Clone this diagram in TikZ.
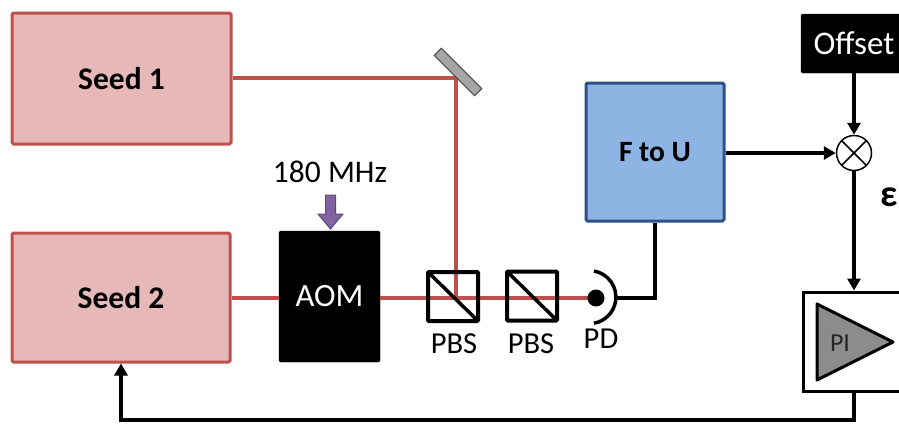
\documentclass[tikz,border=0pt]{standalone}
\usepackage{fontspec}
\setmainfont{Carlito}
\usetikzlibrary{arrows.meta}
\definecolor{seedfill}{HTML}{E6B9B8}
\definecolor{seedline}{HTML}{C0504D}
\definecolor{beamcol}{HTML}{C0504D}
\definecolor{blufill}{HTML}{8EB4E3}
\definecolor{bluline}{HTML}{2C5287}
\definecolor{purfill}{HTML}{8064A2}
\definecolor{purline}{HTML}{5F497A}
\definecolor{mirfill}{HTML}{A6A6A6}
\definecolor{trifill}{HTML}{8C8C8C}
\tikzset{
  seedbox/.style={draw=seedline, fill=seedfill, line width=3pt, rounded corners=1.5pt,
    font=\fontsize{31.5}{36}\selectfont\bfseries, inner sep=0pt},
  blackbox/.style={draw=black, fill=black, text=white, rounded corners=1.5pt,
    font=\fontsize{32.5}{38}\selectfont, inner sep=0pt},
  bluebox/.style={draw=bluline, fill=blufill, line width=3pt, rounded corners=1.5pt,
    font=\fontsize{29.5}{34}\selectfont\bfseries, inner sep=0pt},
  pbsbox/.style={draw=black, line width=4pt, minimum width=50pt, minimum height=49pt,
    inner sep=0pt, rounded corners=1pt,
    path picture={\draw[line width=3.5pt] (path picture bounding box.north west) -- (path picture bounding box.south east);}},
  beam/.style={draw=beamcol, line width=4pt},
  wire/.style={draw=black, line width=4pt},
  arr/.style={wire, -{Triangle[length=12pt,width=13pt]}},
  lbl/.style={font=\fontsize{30.5}{36}\selectfont, inner sep=0pt},
}
\begin{document}
\begin{tikzpicture}[x=1pt,y=-1pt]
\useasboundingbox (0,0) rectangle (899,424);
\clip (0,0) rectangle (899,424);

% beams (behind components)
\coordinate (mir) at (456,78);
\coordinate (beamjoin) at (456,298);
\node[seedbox, minimum width=219pt, minimum height=131pt] (seed1) at (121.5,78.5) {Seed 1};
\node[seedbox, minimum width=218pt, minimum height=129pt] (seed2) at (121,297.5) {Seed 2};
\node[blackbox, minimum width=101pt, minimum height=131pt] (aom) at (329.5,296.5) {AOM};
\coordinate (pdc) at (596,298);

\draw[beam] (seed1.east |- mir) -- (mir) -- (beamjoin);
\draw[beam] (seed2.east |- pdc) -- (aom.west |- pdc);
\draw[beam] (aom.east |- pdc) -- (pdc);

% mirror
\node[draw=black!70, fill=mirfill, line width=1pt, minimum width=57pt, minimum height=10pt,
  inner sep=0pt, rotate=-45] (mirror) at (458,72) {};

% 180 MHz and RF arrow
\node[lbl, font=\fontsize{31.5}{36}\selectfont] (rf) at (330,172) {180 MHz};
\draw[draw=purline, fill=purfill, line width=1pt]
  (325.5,195) -- (335.5,195) -- (335.5,214) -- (343,214) -- (330.5,229) -- (318,214) -- (325.5,214) -- cycle;

% PBS cubes
\node[pbsbox] (pbs1) at (453,296.5) {};
\node[pbsbox] (pbs2) at (532,296) {};
\node[lbl, anchor=north] (pbs1l) at (454,333) {PBS};
\node[lbl, anchor=north] (pbs2l) at (531,333) {PBS};

% photodiode
\fill (pdc) circle (8.5pt);
\coordinate (pdr) at (615,298);
\draw[line width=3.5pt] (594,271) arc[start angle=-80, end angle=80, x radius=26.5pt, y radius=-26.5pt];
\node[lbl, anchor=north] (pdl) at (601,329) {PD};

% F to U
\node[bluebox, minimum width=138pt, minimum height=138pt] (ftu) at (655,152) {F to U};
\draw[wire] (pdr) -| (ftu.south);

% Offset and mixer
\node[blackbox, minimum width=106pt, minimum height=59pt, font=\fontsize{33}{38}\selectfont] (off) at (854,43.5) {Offset};
\node[draw=black, fill=white, circle, line width=1.5pt, minimum size=35pt, inner sep=0pt,
  path picture={\draw[line width=1.5pt] (path picture bounding box.north west) -- (path picture bounding box.south east)
     (path picture bounding box.north east) -- (path picture bounding box.south west);}] (mix) at (854,153) {};
\draw[arr] (ftu.east |- mix) -- (mix.west);
\draw[arr] (off.south) -- (mix.north);

% PI box
\node[draw=black, fill=white, line width=3pt, minimum width=104pt, minimum height=99pt, inner sep=0pt] (pib) at (855,341.5) {};
\draw[arr] (mix.south) -- (pib.north -| mix.south);
\node[font=\fontsize{38}{44}\selectfont\bfseries, inner sep=0pt] (eps) at (889,197) {ε};
\draw[draw=black, fill=trifill, line width=3pt, line join=round] (817,304) -- (893,342) -- (817,380) -- cycle;
\node[font=\fontsize{26}{30}\selectfont, text=black!85, inner sep=0pt] (pil) at (840,343) {PI};

% feedback
\coordinate (fb) at (854,420);
\draw[wire, -{Triangle[length=12pt,width=13pt]}] (pib.south -| mix.south) -- (fb) -| (seed2.south);
\end{tikzpicture}
\end{document}
